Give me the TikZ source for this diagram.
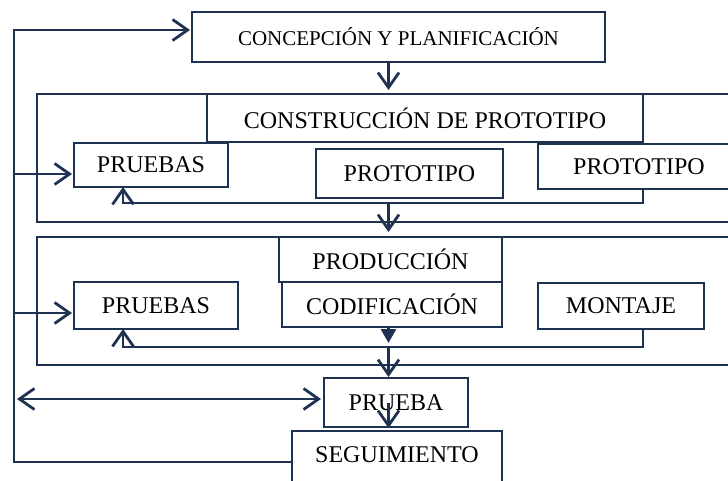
\documentclass[tikz,border=0pt]{standalone}
\usepackage{fontspec}
\setmainfont{Liberation Serif}
\usetikzlibrary{arrows.meta}
\definecolor{navy}{HTML}{1F3251}
\tikzset{
  box/.style={draw=navy, line width=2.8pt, fill=white, outer sep=0pt, inner sep=0pt, anchor=north west, align=center, font=\fontsize{24}{28}\selectfont},
  conn/.style={draw=navy, line width=2.8pt},
  arr/.style={conn, -{Straight Barb[length=15pt,width=21pt]}},
  arrtwo/.style={conn, {Straight Barb[length=15pt,width=21pt]}-{Straight Barb[length=15pt,width=21pt]}},
  farr/.style={conn, -{Triangle[length=14pt,width=15pt]}}
}
\begin{document}
\begin{tikzpicture}[x=1pt,y=-1pt]
\useasboundingbox (0,0) rectangle (728,481);
\clip (0,0) rectangle (728,481);
% sections
\node[box, minimum width=760, minimum height=128] (sec1) at (37,94) {};
\node[box, minimum width=760, minimum height=128] (sec2) at (37,237) {};
% boxes
\node[box, minimum width=413, minimum height=50, font=\fontsize{21}{25}\selectfont] (conc) at (192,12) {CONCEPCIÓN Y PLANIFICACIÓN};
\node[box, minimum width=436, minimum height=48] (cons) at (207,94) {CONSTRUCCIÓN DE PROTOTIPO};
\node[box, minimum width=154, minimum height=44] (pru1) at (74,143) {PRUEBAS};
\node[box, minimum width=187, minimum height=49] (proto1) at (316,149) {PROTOTIPO};
\node[box, minimum width=202, minimum height=45] (proto2) at (538,144) {PROTOTIPO};
\node[box, minimum width=223, minimum height=45] (prod) at (279,237) {PRODUCCIÓN};
\node[box, minimum width=220, minimum height=45] (codif) at (282,282) {CODIFICACIÓN};
\node[box, minimum width=164, minimum height=47] (pru2) at (74,282) {PRUEBAS};
\node[box, minimum width=166, minimum height=46] (mont) at (538,283) {MONTAJE};
\node[box, minimum width=144, minimum height=49] (prueba) at (324,378) {PRUEBA};
\node[box, minimum width=210, minimum height=70] (seg) at (292,431) {\raisebox{22pt}{SEGUIMIENTO}};
% helper coordinates
\coordinate (axis) at (388.5,0);
\coordinate (fb1) at (123,203);
\coordinate (fb2) at (123,347);
\coordinate (L0) at (14,30);
\coordinate (L1) at (14,462);
\coordinate (A1) at (14,174);
\coordinate (A2) at (14,313);
\coordinate (D) at (17,399);
\coordinate (ctip) at (388.5,343);
% main flow
\draw[arr, shorten >=4pt] (conc.south -| axis) -- (cons.north -| axis);
\draw[arr, shorten >=5pt] (fb1 -| axis) -- (sec2.north -| axis);
\draw[farr] (codif.south -| axis) -- (ctip);
\draw[arr, shorten >=1pt] (fb2 -| axis) -- (prueba.north -| axis);
\draw[arr, shorten >=3pt] (prueba.center -| axis) -- (seg.north -| axis);
% feedback loops
\draw[arr] (proto2.south -| cons.east) -- (cons.east |- fb1) -- (fb1) -- (pru1.south -| fb1);
\draw[arr] (mont.south -| cons.east) -- (cons.east |- fb2) -- (fb2) -- (pru2.south -| fb2);
% outer loop
\draw[arr, shorten >=2pt] (seg.west |- L1) -- (L1) -- (L0) -- (conc.west |- L0);
\draw[arr, shorten >=2pt] (A1) -- (pru1.west |- A1);
\draw[arr, shorten >=2pt] (A2) -- (pru2.west |- A2);
\draw[arrtwo, shorten >=3pt] (D) -- (prueba.west |- D);
\end{tikzpicture}
\end{document}
